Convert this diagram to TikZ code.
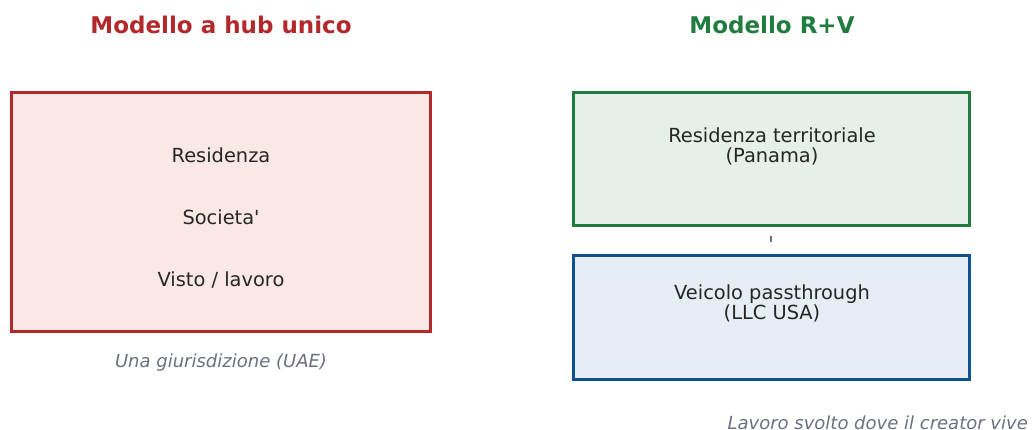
\documentclass[tikz,border=0pt]{standalone}
\usepackage{fontspec}
\setmainfont{DejaVu Sans}
\definecolor{redb}{HTML}{B3282A}
\definecolor{redf}{HTML}{FAE8E6}
\definecolor{greenb}{HTML}{217C40}
\definecolor{greenf}{HTML}{E6F0E8}
\definecolor{blueb}{HTML}{0F518C}
\definecolor{bluef}{HTML}{E6EDF5}
\definecolor{txt}{HTML}{262626}
\definecolor{capg}{HTML}{6B7080}
\tikzset{
  box/.style={draw, line width=3pt, inner sep=0pt},
  titletext/.style={font=\fontsize{23}{26}\selectfont\bfseries},
  body/.style={font=\fontsize{19.4}{20}\selectfont, text=txt, align=center},
  captext/.style={font=\fontsize{18}{20}\selectfont\itshape, text=capg},
}
\begin{document}
\begin{tikzpicture}[x=1pt,y=-1pt]
\useasboundingbox (0,0) rectangle (1035,430);
\node[titletext, text=redb] (t1) at (221,25) {Modello a hub unico};
\node[titletext, text=greenb] (t2) at (772,25) {Modello R+V};
\draw[box, draw=redb, fill=redf] (11,93) rectangle (430,331);
\node[body] (a1) at (221,155) {Residenza};
\node[body] (a2) at (221,217) {Societa\textquotesingle};
\node[body] (a3) at (221,280) {Visto / lavoro};
\node[captext] (c1) at (221,362.5) {Una giurisdizione (UAE)};
\node[box, draw=greenb, fill=greenf, minimum width=396pt, minimum height=133pt] (g) at (771,159.5) {};
\node[body] (gt) at (772,146.5) {Residenza territoriale\\(Panama)};
\node[box, draw=blueb, fill=bluef, minimum width=396pt, minimum height=124pt] (b) at (771,317) {};
\node[body] (bt) at (772,303.5) {Veicolo passthrough\\(LLC USA)};
\draw[capg, line width=2.5pt, dash pattern=on 0pt off 8.5pt on 6pt off 30pt] (g.south) -- (b.north);
\node[captext, anchor=west] (c2) at (724,423) {Lavoro svolto dove il creator vive};
\end{tikzpicture}
\end{document}
